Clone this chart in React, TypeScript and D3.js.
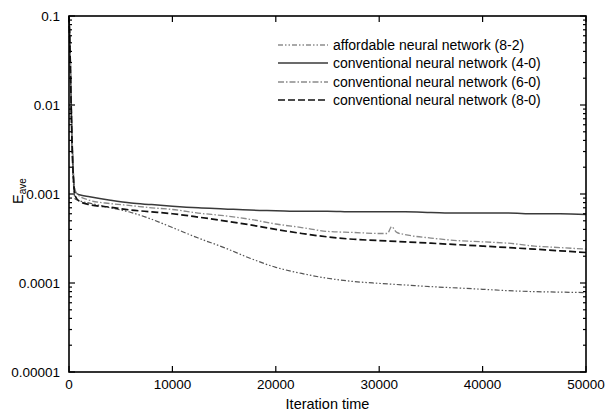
import React, { useEffect, useRef } from 'react';
import * as d3 from 'd3';

// iteration / E_ave pairs
const affordable82: [number, number][] = [
  [0, 0.1], [100, 0.04], [200, 0.01], [300, 0.0035], [400, 0.0015], [600, 0.00088],
  [1000, 0.00084], [2000, 0.00079], [4000, 0.0007], [6000, 0.00062], [8000, 0.00052],
  [10000, 0.00042], [12500, 0.00032], [15000, 0.00025], [17500, 0.00019], [20000, 0.00015],
  [22500, 0.000128], [25000, 0.000113], [27500, 0.000104], [30000, 0.000099], [32500, 0.000095],
  [35000, 0.000091], [37500, 0.000088], [40000, 0.000085], [42500, 0.000082], [45000, 0.00008],
  [47500, 0.000079], [50000, 0.000078],
];

const conv40: [number, number][] = [
  [0, 0.1], [100, 0.045], [200, 0.012], [300, 0.004], [400, 0.0019], [600, 0.00105],
  [1000, 0.00098], [2000, 0.00093], [4000, 0.00085], [6000, 0.00079], [8000, 0.00076],
  [10000, 0.00073], [12500, 0.0007], [15000, 0.00068], [17500, 0.00066], [20000, 0.00065],
  [22500, 0.00064], [25000, 0.00064], [27500, 0.00063], [30000, 0.00063], [32500, 0.00063],
  [35000, 0.00062], [37500, 0.00061], [40000, 0.00061], [42500, 0.00061], [45000, 0.0006],
  [47500, 0.0006], [50000, 0.00059],
];

const conv60: [number, number][] = [
  [0, 0.1], [100, 0.05], [200, 0.013], [300, 0.0045], [400, 0.002], [600, 0.0011],
  [1000, 0.00095], [2000, 0.00085], [4000, 0.00078], [6000, 0.00074], [8000, 0.0007],
  [10000, 0.00067], [12500, 0.00061], [15000, 0.00057], [17500, 0.00052], [20000, 0.00046],
  [22500, 0.00042], [25000, 0.00038], [27500, 0.00037], [30000, 0.00036], [30800, 0.00036],
  [31200, 0.00043], [31700, 0.00037], [32500, 0.00035], [35000, 0.00032], [37500, 0.0003],
  [40000, 0.00029], [42500, 0.00028], [45000, 0.00026], [47500, 0.00025], [50000, 0.00024],
];

const conv80: [number, number][] = [
  [0, 0.1], [100, 0.04], [200, 0.011], [300, 0.0035], [400, 0.0017], [600, 0.00095],
  [1000, 0.00083], [2000, 0.00076], [4000, 0.00071], [6000, 0.00066], [8000, 0.00063],
  [10000, 0.0006], [12500, 0.00055], [15000, 0.0005], [17500, 0.00045], [20000, 0.0004],
  [22500, 0.00036], [25000, 0.00033], [27500, 0.00031], [30000, 0.0003], [32500, 0.00029],
  [35000, 0.00028], [37500, 0.00027], [40000, 0.00026], [42500, 0.00025], [45000, 0.00024],
  [47500, 0.00023], [50000, 0.00022],
];

const seriesNames = [
  'affordable neural network (8-2)',
  'conventional neural network (4-0)',
  'conventional neural network (6-0)',
  'conventional neural network (8-0)',
];

const xTicks = [0, 10000, 20000, 30000, 40000, 50000];
const yTicks = [0.1, 0.01, 0.001, 0.0001, 0.00001];
const yTickLabels = ['0.1', '0.01', '0.001', '0.0001', '0.00001'];

function App() {
  const svgRef = useRef<SVGSVGElement>(null);

  useEffect(() => {
    const svg = d3.select(svgRef.current);
    svg.selectAll('*').remove();
    const width = 610;
    const height = 412;
    const margin = { left: 69, top: 16, right: 24, bottom: 40 };
    const font = 'Liberation Sans, Arial, sans-serif';

    const x = d3.scaleLinear().domain([0, 50000]).range([margin.left, width - margin.right]);
    const y = d3.scaleLog().domain([0.00001, 0.1]).range([height - margin.bottom, margin.top]);

    const styles = [
      { data: affordable82, color: '#555', w: 1.2, dash: '5,2,1.5,2,1.5,2' },
      { data: conv40, color: '#3a3a3a', w: 1.5, dash: null },
      { data: conv60, color: '#8a8a8a', w: 1.3, dash: '6,2,1.5,2' },
      { data: conv80, color: '#111', w: 1.7, dash: '7,3' },
    ];

    const line = d3
      .line<[number, number]>()
      .x((d) => x(d[0]))
      .y((d) => y(d[1]))
      .curve(d3.curveMonotoneX);

    const lines = svg.append('g');
    styles.forEach((s) => {
      lines
        .append('path')
        .attr('d', line(s.data))
        .attr('fill', 'none')
        .attr('stroke', s.color)
        .attr('stroke-width', s.w)
        .attr('stroke-dasharray', s.dash);
    });

    // frame
    svg
      .append('rect')
      .attr('x', x(0))
      .attr('y', y(0.1))
      .attr('width', x(50000) - x(0))
      .attr('height', y(0.00001) - y(0.1))
      .attr('fill', 'none')
      .attr('stroke', '#000')
      .attr('stroke-width', 1.6);

    const ticks = svg.append('g').attr('stroke', '#000').attr('stroke-width', 1.2);
    xTicks.forEach((t) => {
      ticks.append('line').attr('x1', x(t)).attr('x2', x(t)).attr('y1', y(0.00001)).attr('y2', y(0.00001) - 6);
      ticks.append('line').attr('x1', x(t)).attr('x2', x(t)).attr('y1', y(0.1)).attr('y2', y(0.1) + 6);
    });
    yTicks.forEach((t, i) => {
      ticks.append('line').attr('x1', x(0)).attr('x2', x(0) + 6).attr('y1', y(t)).attr('y2', y(t));
      ticks.append('line').attr('x1', x(50000)).attr('x2', x(50000) - 6).attr('y1', y(t)).attr('y2', y(t));
      if (i < yTicks.length - 1) {
        for (let m = 2; m <= 9; m++) {
          const v = yTicks[i + 1] * m;
          ticks.append('line').attr('x1', x(0)).attr('x2', x(0) + 3).attr('y1', y(v)).attr('y2', y(v));
          ticks.append('line').attr('x1', x(50000)).attr('x2', x(50000) - 3).attr('y1', y(v)).attr('y2', y(v));
        }
      }
    });

    svg
      .append('g')
      .selectAll('text')
      .data(xTicks)
      .enter()
      .append('text')
      .attr('x', (d) => x(d))
      .attr('y', 389)
      .attr('text-anchor', 'middle')
      .style('font', `13.5px ${font}`)
      .text((d) => String(d));

    svg
      .append('g')
      .selectAll('text')
      .data(yTicks)
      .enter()
      .append('text')
      .attr('x', 60)
      .attr('y', (d) => y(d) + 5)
      .attr('text-anchor', 'end')
      .style('font', `13.5px ${font}`)
      .text((d, i) => yTickLabels[i]);

    svg
      .append('text')
      .attr('x', (x(0) + x(50000)) / 2)
      .attr('y', 409)
      .attr('text-anchor', 'middle')
      .style('font', `14.5px ${font}`)
      .text('Iteration time');

    const yl = svg
      .append('text')
      .attr('transform', 'translate(23,191) rotate(-90)')
      .attr('text-anchor', 'middle')
      .style('font', `14.5px ${font}`);
    yl.append('tspan').text('E');
    yl.append('tspan').attr('dy', 3).style('font-size', '10px').text('ave');

    // legend
    const legend = svg.append('g');
    const rowY = [45, 63, 82, 100];
    styles.forEach((s, i) => {
      legend
        .append('line')
        .attr('x1', 278)
        .attr('x2', 328)
        .attr('y1', rowY[i])
        .attr('y2', rowY[i])
        .attr('stroke', s.color)
        .attr('stroke-width', s.w)
        .attr('stroke-dasharray', s.dash);
      legend
        .append('text')
        .attr('x', 333)
        .attr('y', rowY[i] + 5)
        .style('font', `14px ${font}`)
        .text(seriesNames[i]);
    });
  }, []);

  return (
    <svg
      ref={svgRef}
      width={610}
      height={412}
      style={{ position: 'absolute', left: 0, top: 0, background: '#fff' }}
    ></svg>
  );
}

export default App;
